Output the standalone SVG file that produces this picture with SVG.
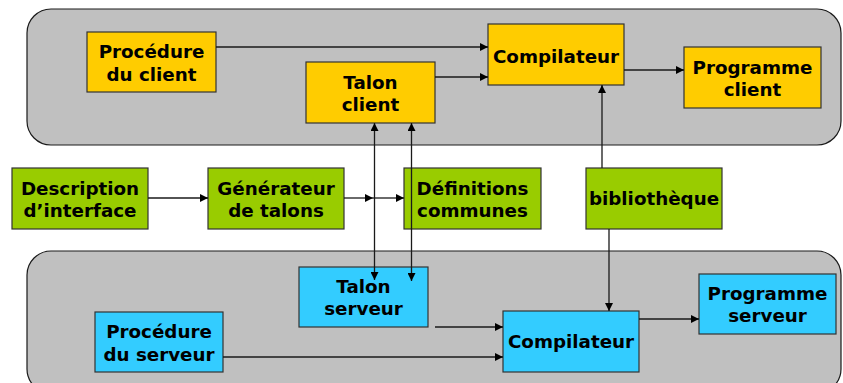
<svg xmlns="http://www.w3.org/2000/svg" width="843" height="383" viewBox="0 0 843 383">
  <defs>
    <marker id="arr" viewBox="0 0 10 10" refX="10" refY="5" markerWidth="8" markerHeight="8" markerUnits="userSpaceOnUse" orient="auto-start-reverse">
      <path d="M0,0 L10,5 L0,10 Z" fill="#000"/>
    </marker>
    <style>
      .zone { fill: #c0c0c0; stroke: #1a1a1a; stroke-width: 1.2; }
      .box { stroke: #333; stroke-width: 1.2; }
      .y { fill: #ffcc00; }
      .g { fill: #99cc00; }
      .b { fill: #33ccff; }
      text { font-family: "DejaVu Sans", Verdana, sans-serif; font-weight: bold; font-size: 18.3px; fill: #000; text-anchor: middle; }
      .c line, .c path { stroke: #1a1a1a; stroke-width: 1.3; fill: none; }
    </style>
  </defs>

  <!-- client and server zones -->
  <rect class="zone" x="27" y="9" width="814" height="136" rx="24"/>
  <rect class="zone" x="27" y="251" width="814" height="142" rx="24"/>

  <!-- client side -->
  <g id="proc-client">
    <rect class="box y" x="87" y="32" width="129" height="60"/>
    <text x="151.5" y="58">Procédure</text>
    <text x="151.5" y="80.5">du client</text>
  </g>
  <g id="talon-client">
    <rect class="box y" x="306" y="62" width="129" height="61"/>
    <text x="370.5" y="88.5">Talon</text>
    <text x="370.5" y="111">client</text>
  </g>
  <g id="compil-client">
    <rect class="box y" x="488" y="24" width="136" height="61"/>
    <text x="556" y="62.5">Compilateur</text>
  </g>
  <g id="prog-client">
    <rect class="box y" x="684" y="47" width="137" height="61"/>
    <text x="752.5" y="73.5">Programme</text>
    <text x="752.5" y="96">client</text>
  </g>

  <!-- shared middle row -->
  <g id="description">
    <rect class="box g" x="12" y="168" width="136" height="61"/>
    <text x="80" y="195">Description</text>
    <text x="80" y="217">d’interface</text>
  </g>
  <g id="generateur">
    <rect class="box g" x="208" y="168" width="136" height="61"/>
    <text x="276" y="195">Générateur</text>
    <text x="276" y="217">de talons</text>
  </g>
  <g id="definitions">
    <rect class="box g" x="404" y="168" width="137" height="61"/>
    <text x="472.5" y="195">Définitions</text>
    <text x="472.5" y="217">communes</text>
  </g>
  <g id="bibliotheque">
    <rect class="box g" x="586" y="168" width="136" height="61"/>
    <text x="654" y="205">bibliothèque</text>
  </g>

  <!-- server side -->
  <g id="talon-serveur">
    <rect class="box b" x="299" y="267" width="129" height="60"/>
    <text x="363.5" y="293">Talon</text>
    <text x="363.5" y="315">serveur</text>
  </g>
  <g id="proc-serveur">
    <rect class="box b" x="95" y="312" width="128" height="60"/>
    <text x="159" y="338">Procédure</text>
    <text x="159" y="361">du serveur</text>
  </g>
  <g id="compil-serveur">
    <rect class="box b" x="503" y="311" width="136" height="61"/>
    <text x="571" y="348">Compilateur</text>
  </g>
  <g id="prog-serveur">
    <rect class="box b" x="699" y="274" width="137" height="60"/>
    <text x="767.5" y="300">Programme</text>
    <text x="767.5" y="322">serveur</text>
  </g>

  <!-- connectors -->
  <g id="connectors" class="c">
    <line x1="216" y1="47" x2="488" y2="47" marker-end="url(#arr)"/>
    <line x1="435" y1="77" x2="488" y2="77" marker-end="url(#arr)"/>
    <line x1="624" y1="70" x2="684" y2="70" marker-end="url(#arr)"/>
    <line x1="602" y1="168" x2="602" y2="85" marker-end="url(#arr)"/>

    <line x1="148" y1="198" x2="208" y2="198" marker-end="url(#arr)"/>
    <line x1="344" y1="198" x2="373" y2="198" marker-end="url(#arr)"/>
    <line x1="373" y1="198" x2="404" y2="198" marker-end="url(#arr)"/>

    <line x1="374.5" y1="123" x2="374.5" y2="280" marker-start="url(#arr)" marker-end="url(#arr)"/>
    <line x1="411.5" y1="123" x2="411.5" y2="281" marker-start="url(#arr)" marker-end="url(#arr)"/>

    <line x1="609" y1="229" x2="609" y2="311" marker-end="url(#arr)"/>
    <line x1="435" y1="327" x2="503" y2="327" marker-end="url(#arr)"/>
    <line x1="223" y1="357" x2="503" y2="357" marker-end="url(#arr)"/>
    <line x1="639" y1="319" x2="699" y2="319" marker-end="url(#arr)"/>
  </g>
</svg>
